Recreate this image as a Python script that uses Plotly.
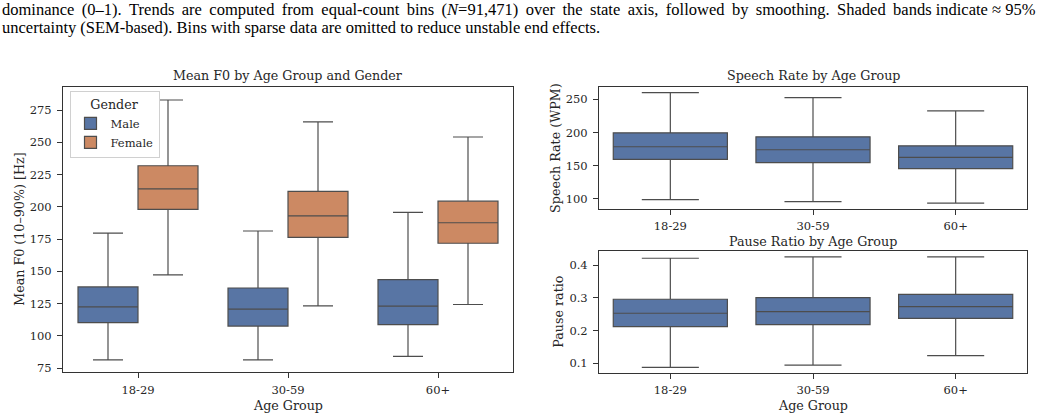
import plotly.graph_objects as go

age_groups = ["18-29", "30-59", "60+"]

# Mean F0 (10-90%) [Hz] box statistics by gender
f0_male_low = [81.4, 81.4, 84.0]
f0_male_q1 = [110.2, 107.6, 108.7]
f0_male_med = [122.5, 120.7, 123.0]
f0_male_q3 = [137.9, 137.1, 143.6]
f0_male_high = [179.7, 181.3, 195.7]

f0_female_low = [147.2, 123.3, 124.3]
f0_female_q1 = [198.0, 176.4, 171.8]
f0_female_med = [213.9, 193.1, 187.7]
f0_female_q3 = [231.9, 212.1, 204.4]
f0_female_high = [282.9, 266.0, 254.2]

# Speech rate (WPM)
sr_low = [99.0, 96.0, 93.5]
sr_q1 = [159.6, 154.5, 145.6]
sr_med = [178.5, 174.0, 162.6]
sr_q3 = [199.5, 193.5, 180.0]
sr_high = [260.0, 252.5, 232.5]

# Pause ratio
pr_low = [0.087, 0.094, 0.123]
pr_q1 = [0.212, 0.218, 0.237]
pr_med = [0.253, 0.258, 0.2735]
pr_q3 = [0.296, 0.301, 0.311]
pr_high = [0.422, 0.426, 0.426]

f0_ticks = [75, 100, 125, 150, 175, 200, 225, 250, 275]
sr_ticks = [100, 150, 200, 250]
pr_ticks = [0.1, 0.2, 0.3, 0.4]

caption1_words = ["dominance", "(0–1).", "Trends", "are", "computed", "from", "equal-count",
                  "bins", "(<i>N</i>=91,471)", "over", "the", "state", "axis,", "followed",
                  "by", "smoothing.", "Shaded", "bands", "indicate", "≈", "95%"]
caption2 = "uncertainty (SEM-based). Bins with sparse data are omitted to reduce unstable end effects."

BLUE = "#5875a4"
ORANGE = "#cc8963"
EDGE = "#4d4d4d"
TXT = "#262626"
FONT = "DejaVu Serif"
FS_TICK = 11.5
FS_LAB = 12.7

W, H = 1040, 420


def px_x(x):
    return x / W


def px_y(y):
    return 1 - y / H


def box(name, low, q1, med, q3, high, color, xa, ya, show, group):
    return go.Box(
        x=age_groups, q1=q1, median=med, q3=q3, lowerfence=low, upperfence=high,
        name=name, fillcolor=color, line=dict(color=EDGE, width=1.2),
        whiskerwidth=0.5, boxpoints=False, xaxis=xa, yaxis=ya,
        showlegend=show, offsetgroup=group, legendgroup=name,
    )


fig = go.Figure()
fig.add_trace(box("Male", f0_male_low, f0_male_q1, f0_male_med, f0_male_q3, f0_male_high,
                  BLUE, "x", "y", True, "m"))
fig.add_trace(box("Female", f0_female_low, f0_female_q1, f0_female_med, f0_female_q3,
                  f0_female_high, ORANGE, "x", "y", True, "f"))
fig.add_trace(box("Speech", sr_low, sr_q1, sr_med, sr_q3, sr_high, BLUE, "x2", "y2", False, "s"))
fig.add_trace(box("Pause", pr_low, pr_q1, pr_med, pr_q3, pr_high, BLUE, "x3", "y3", False, "p"))

axis_common = dict(
    showline=True, linecolor="#333333", linewidth=1, mirror=True,
    ticks="outside", ticklen=5, tickwidth=1, tickcolor="#333333",
    showgrid=False, zeroline=False,
    tickfont=dict(family=FONT, size=FS_TICK, color=TXT),
)
xcommon = dict(type="category", range=[-0.5, 2.5], ticklabelstandoff=2, **axis_common)
ycommon = dict(ticklabelstandoff=3, **axis_common)

fig.update_layout(
    width=W, height=H,
    margin=dict(l=0, r=0, t=0, b=0),
    paper_bgcolor="white", plot_bgcolor="white",
    boxmode="group", boxgap=0.2, boxgroupgap=0.0,
    font=dict(family=FONT, size=FS_TICK, color=TXT),
    xaxis=dict(domain=[px_x(63), px_x(513)], anchor="y", **xcommon),
    yaxis=dict(domain=[px_y(375), px_y(88)], anchor="x", range=[71.7, 292.7],
               tickvals=f0_ticks, **ycommon),
    xaxis2=dict(domain=[px_x(599), px_x(1027)], anchor="y2", **xcommon),
    yaxis2=dict(domain=[px_y(210), px_y(88)], anchor="x2", range=[85.5, 268.0],
                tickvals=sr_ticks, **ycommon),
    xaxis3=dict(domain=[px_x(599), px_x(1027)], anchor="y3", **xcommon),
    yaxis3=dict(domain=[px_y(375.3), px_y(252.7)], anchor="x3", range=[0.0707, 0.4445],
                tickvals=pr_ticks, tickformat=".1f", **ycommon),
    legend=dict(
        x=px_x(69.5), y=px_y(92), xanchor="left", yanchor="top",
        bgcolor="white", bordercolor="#d0d0d0", borderwidth=1,
        font=dict(family=FONT, size=FS_TICK, color=TXT),
        title=dict(text="Gender", side="top center",
                   font=dict(family=FONT, size=FS_LAB, color=TXT)),
        tracegroupgap=0,
    ),
)

ann = []


def label(text, x, y, angle=0, size=FS_LAB, family=FONT, color=TXT, xanchor="center"):
    ann.append(dict(text=text, x=x, y=y, xref="paper", yref="paper", showarrow=False,
                    textangle=angle, xanchor=xanchor, yanchor="middle",
                    font=dict(family=family, size=size, color=color)))


label("Mean F0 by Age Group and Gender", px_x(288), px_y(76))
label("Speech Rate by Age Group", px_x(813), px_y(76))
label("Pause Ratio by Age Group", px_x(813), px_y(243.5))
label("Age Group", px_x(288), px_y(408))
label("Age Group", px_x(813), px_y(408))
label("Mean F0 (10–90%) [Hz]", px_x(20), px_y(231.5), angle=-90)
label("Speech Rate (WPM)", px_x(556), px_y(149), angle=-90)
label("Pause ratio", px_x(559), px_y(314), angle=-90)

# justify the first caption line roughly: widen most word gaps with a thin space
caption1 = caption1_words[0]
for i, w in enumerate(caption1_words[1:]):
    caption1 += (" \u2009" if i < 17 else " ") + w
label(caption1, 0, px_y(10), size=16.5, family="Liberation Serif", color="black", xanchor="left")
label(caption2, 0, px_y(28), size=16.5, family="Liberation Serif", color="black", xanchor="left")

fig.update_layout(annotations=ann)
fig.write_html("out.html")
